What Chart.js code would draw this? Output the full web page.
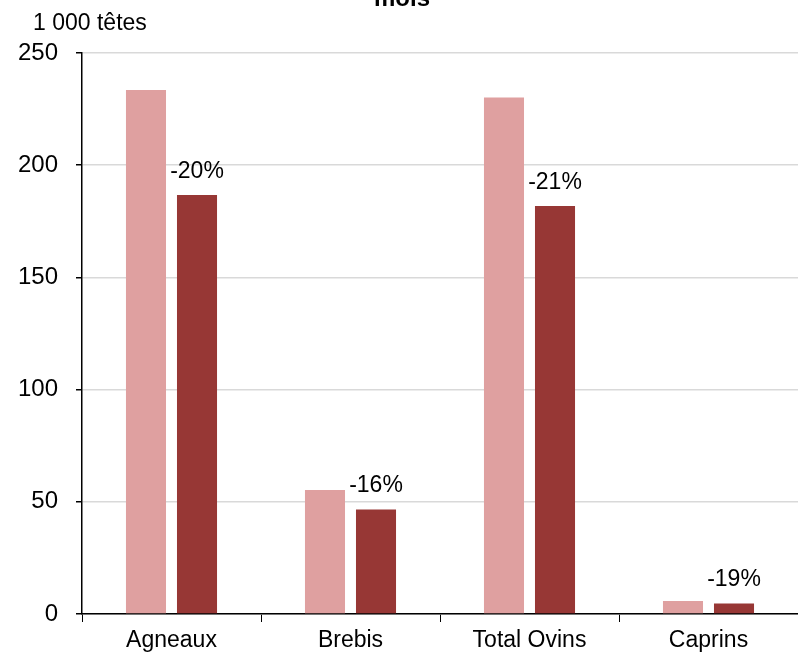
<!DOCTYPE html>
<html>
<head>
<meta charset="utf-8">
<script src="https://cdn.jsdelivr.net/npm/chart.js@4/dist/chart.umd.min.js"></script>
<style>
  html, body { margin: 0; padding: 0; background: #fff; }
  #wrap { position: relative; width: 798px; height: 654px; }
</style>
</head>
<body>
<div id="wrap"><canvas id="chart" width="798" height="654"></canvas></div>
<script>
const categories = ["Agneaux", "Brebis", "Total Ovins", "Caprins"];
const previous = [233.5, 55.3, 230.2, 5.8];
const current = [186.7, 46.6, 181.8, 4.7];
const changes = ["-20%", "-16%", "-21%", "-19%"];
const yTicks = [0, 50, 100, 150, 200, 250];

const FONT = "'Liberation Sans', Arial, sans-serif";

// labels above the dark bars + unit and cut title
const extras = {
  id: "extras",
  afterDatasetsDraw(chart) {
    const ctx = chart.ctx;
    const meta = chart.getDatasetMeta(1);
    ctx.save();
    ctx.fillStyle = "#000";
    ctx.font = "23px " + FONT;
    ctx.textAlign = "center";
    ctx.textBaseline = "alphabetic";
    meta.data.forEach((bar, i) => {
      ctx.fillText(changes[i], bar.x, bar.y - 17);
    });
    ctx.textAlign = "left";
    ctx.font = "23px " + FONT;
    ctx.fillText("1 000 têtes", 33, 30);
    ctx.textAlign = "center";
    ctx.font = "bold 24px " + FONT;
    ctx.fillText("mois", 402, 6);
    ctx.restore();
  }
};

new Chart(document.getElementById("chart"), {
  type: "bar",
  data: {
    labels: categories,
    datasets: [
      { data: previous, backgroundColor: "#DFA0A0", borderWidth: 0 },
      { data: current, backgroundColor: "#973735", borderWidth: 0 }
    ]
  },
  options: {
    responsive: false,
    animation: false,
    layout: { padding: { top: 53, left: 0, right: 0, bottom: 0 } },
    datasets: { bar: { categoryPercentage: 0.57, barPercentage: 0.785 } },
    plugins: { legend: { display: false }, tooltip: { enabled: false }, title: { display: false } },
    scales: {
      x: {
        afterFit: s => { s.height = 40; },
        grid: { offset: true, drawOnChartArea: false, drawTicks: true, tickLength: 8, tickColor: "#000" },
        border: { color: "#000", width: 1.5 },
        ticks: { color: "#000", font: { family: FONT, size: 23 }, padding: 5 }
      },
      y: {
        min: 0,
        max: 250,
        afterFit: s => { s.width = 82; },
        afterBuildTicks: s => { s.ticks = yTicks.map(v => ({ value: v })); },
        grid: { color: "#d9d9d9", lineWidth: 1.5, tickColor: "#000", tickLength: 6 },
        border: { color: "#000", width: 1.5 },
        ticks: { color: "#000", font: { family: FONT, size: 24 }, padding: 18 }
      }
    }
  },
  plugins: [extras]
});
</script>
</body>
</html>
